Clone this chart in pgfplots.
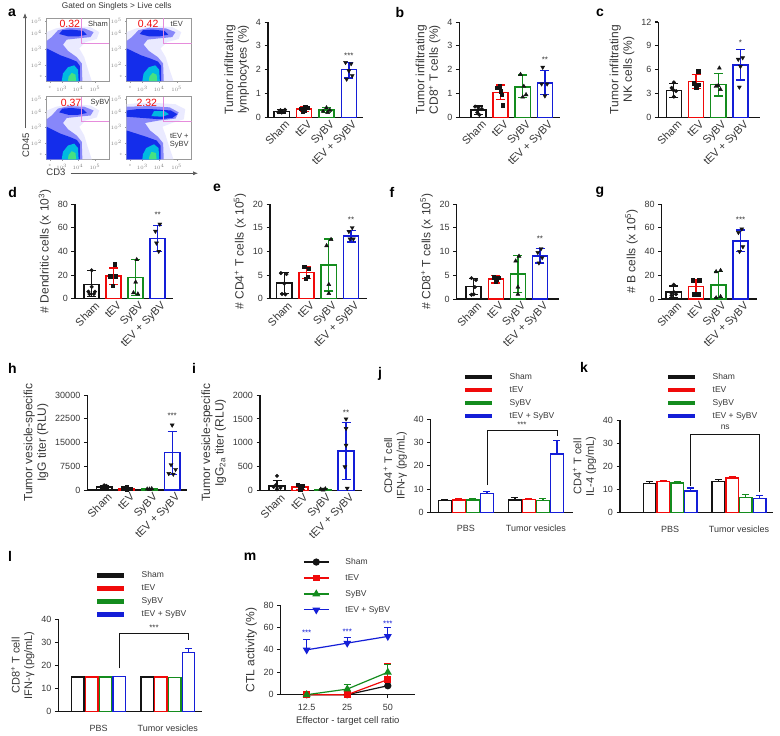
\documentclass[border=0pt]{standalone}
\usepackage{pgfplots}
\pgfplotsset{compat=1.18}
\usepackage{fontspec}
\setmainfont{Liberation Sans}
\usetikzlibrary{arrows.meta}
\definecolor{gpblack}{RGB}{20,20,20}
\definecolor{gpred}{RGB}{240,10,10}
\definecolor{gpgreen}{RGB}{20,140,30}
\definecolor{gpblue}{RGB}{20,30,215}
\definecolor{txt}{RGB}{55,55,55}
\definecolor{gatec}{RGB}{230,140,220}
\definecolor{fl1}{RGB}{234,234,255}
\definecolor{fl2}{RGB}{135,135,250}
\definecolor{fl3}{RGB}{20,45,235}
\definecolor{fl4}{RGB}{0,185,225}
\definecolor{fl5}{RGB}{70,225,130}
\newcommand{\fs}[1]{\fontsize{#1}{#1}\selectfont}
\tikzset{sig/.style={font=\fs{8}, text=txt}}

\pgfplotsset{
  gp/.style={scale only axis, clip=false,
    axis x line*=bottom, axis y line*=left,
    axis line style={line width=1.1pt, gpblack},
    tick align=outside, major tick length=3.5pt,
    tick style={line width=1pt, gpblack},
    ymin=0, scaled y ticks=false,
    /pgf/number format/assume math mode=true,
    /pgf/number format/1000 sep={},
    yticklabel style={font=\fs{9}, text=txt},
    xticklabel style={text=txt},
    ylabel style={font=\fontsize{12}{13.5}\selectfont, text=txt, align=center},
  },
  cat4/.style={gp, xtick={1,2,3,4}, xticklabels={Sham,tEV,SyBV,tEV + SyBV},
    xtick style={draw=none},
    xticklabel style={rotate=45, anchor=north east, font=\fs{11}, inner sep=1pt, xshift=4pt}},
  grp/.style={gp, xtick={1,2}, xticklabels={PBS,Tumor vesicles}, xtick style={draw=none},
    xticklabel style={font=\fs{9}, yshift=-6pt},
    ymax=40, ytick={0,10,20,30,40},
    ylabel style={font=\fontsize{11}{12.5}\selectfont},
    legend style={draw=none, fill=none, font=\fs{8.5}, text=txt, row sep=1.6pt, inner sep=0pt,
      /tikz/every odd column/.append style={column sep=13pt}},
    legend cell align=left,
    legend image code/.code={\draw[line width=4.5pt, ##1] (0pt,0pt) -- (27pt,0pt);}},
  flow/.style={scale only axis, xmin=0, xmax=100, ymin=0, ymax=100,
    axis line style={gray!80, line width=0.5pt},
    xtick={5,24,50,77}, ytick={8,25.5,51,76,96},
    xticklabels={0,$10^3$,$10^4$,$10^5$}, yticklabels={0,$10^2$,$10^3$,$10^4$,$10^5$},
    tick label style={font=\fs{3}, text=gray},
    tick pos=left, tick align=outside, major tick length=1.5pt,
    tick style={gray!80, line width=0.4pt}},
  circ/.style={only marks, mark=*, mark size=1.8pt, gpblack},
  sq/.style={only marks, mark=square*, mark size=1.7pt, gpblack},
  tri/.style={only marks, mark=triangle*, mark size=2.3pt, gpblack},
  itri/.style={only marks, mark=triangle*, mark size=2.3pt, mark options={rotate=180}, gpblack},
}

% x, colour, mean, plus, minus
\newcommand{\gb}[5]{\addplot[ybar, bar shift=0pt, bar width=0.68, draw=#2, line width=1.5pt, fill=white,
  error bars/.cd, y dir=both, y explicit, error bar style={line width=1.3pt, #2},
  error mark options={rotate=90, mark size=4.5pt, line width=1.3pt, #2}]
  coordinates {(#1,#3) += (0,#4) -= (0,#5)};}
% x, colour, mean, plus
\newcommand{\gbb}[4]{\addplot[ybar, bar shift=0pt, bar width=0.18, draw=#2, line width=1.4pt, fill=white,
  error bars/.cd, y dir=plus, y explicit, error bar style={line width=1.2pt, #2},
  error mark options={rotate=90, mark size=3.5pt, line width=1.2pt, #2}]
  coordinates {(#1,#3) +- (0,#4)};}
\newcommand{\legfour}{%
  \addlegendimage{gpblack}\addlegendentry{Sham}
  \addlegendimage{gpred}\addlegendentry{tEV}
  \addlegendimage{gpgreen}\addlegendentry{SyBV}
  \addlegendimage{gpblue}\addlegendentry{tEV + SyBV}}

\newcommand{\flowbase}{%
  \addplot[draw=none, fill=fl1] coordinates {(0,0)(72,0)(66,18)(60,38)(52,52)(62,62)(80,67)(84,78)(70,86)(40,88)(15,84)(0,78)};
  \addplot[draw=none, fill=fl2] coordinates {(0,0)(57,0)(56,28)(48,38)(34,48)(26,58)(32,66)(50,68)(70,70)(75,78)(60,84)(35,85)(18,81)(8,70)(0,64)};
  \addplot[draw=none, fill=fl3] coordinates {(0,0)(53,0)(53,24)(48,31)(36,36)(22,41)(10,47)(0,52)};
  \addplot[draw=none, fill=fl3] coordinates {(20,75)(35,71)(50,71)(64,74)(58,80)(40,82)(25,81)};
  \addplot[draw=none, fill=fl4] coordinates {(24,0)(51,0)(50,18)(44,25)(34,22)(26,12)};
  \addplot[draw=none, fill=fl5] coordinates {(34,0)(47,0)(46,10)(40,13)(35,7)};
}
\newcommand{\flowboth}{%
  \addplot[draw=none, fill=fl1] coordinates {(0,0)(72,0)(66,18)(60,38)(55,52)(70,58)(88,64)(90,80)(75,88)(45,90)(20,90)(0,88)};
  \addplot[draw=none, fill=fl2] coordinates {(0,0)(57,0)(56,26)(48,36)(36,46)(28,58)(50,62)(75,65)(80,75)(66,83)(35,85)(0,84)};
  \addplot[draw=none, fill=fl3] coordinates {(0,0)(52,0)(52,22)(46,30)(30,36)(12,42)(0,46)};
  \addplot[draw=none, fill=fl3] coordinates {(0,68)(25,66)(50,64)(70,66)(78,72)(68,78)(40,80)(15,80)(0,78)};
  \addplot[draw=none, fill=fl4] coordinates {(38,69)(55,68)(65,72)(58,77)(42,77)};
  \addplot[draw=none, fill=fl4] coordinates {(24,0)(50,0)(49,18)(42,24)(30,18)(25,8)};
  \addplot[draw=none, fill=fl5] coordinates {(34,0)(46,0)(45,10)(38,12)(35,5)};
}
\newcommand{\gate}{\addplot[gatec, line width=0.6pt] coordinates {(56,100)(56,60)(100,60)};}

\begin{document}
\begin{tikzpicture}
\path[use as bounding box] (0pt,0pt) rectangle (780pt,-736pt);

% ---------------- panel letters
\begin{scope}[every node/.style={font=\bfseries\fs{14}, text=black}]
\node at (12pt,-13pt) {a};
\node at (400pt,-12pt) {b};
\node at (600pt,-12.5pt) {c};
\node at (12.7pt,-192pt) {d};
\node at (217pt,-188pt) {e};
\node at (392pt,-192pt) {f};
\node at (600pt,-192pt) {g};
\node at (12.5pt,-368pt) {h};
\node at (194pt,-368pt) {i};
\node at (380pt,-374pt) {j};
\node at (584pt,-367pt) {k};
\node at (10pt,-556pt) {l};
\node at (250pt,-557pt) {m};
\end{scope}

% ---------------- flow cytometry
\node[font=\fs{8.3}, text=txt] at (116.7pt,-6.7pt) {Gated on Singlets > Live cells};
\draw[-{Latex[length=5pt,width=4pt]}, line width=0.7pt, gray!70!black] (25pt,-128pt) -- (25pt,-13pt);
\draw[-{Latex[length=5pt,width=4pt]}, line width=0.7pt, gray!70!black] (70.7pt,-173.3pt) -- (198pt,-173.3pt);
\node[rotate=90, font=\fs{9.5}, text=txt] at (25.8pt,-145pt) {CD45};
\node[font=\fs{9.5}, text=txt] at (56pt,-172.7pt) {CD3};

\begin{axis}[flow, at={(46.7pt,-81pt)}, anchor=south west, width=62.6pt, height=62.7pt]
  \flowbase \gate
  \node[gpred, font=\fs{10.5}] at (axis cs:37,91) {0.32};
  \node[font=\fs{7.5}, text=txt] at (axis cs:82,91) {Sham};
\end{axis}
\begin{axis}[flow, at={(126.7pt,-81pt)}, anchor=south west, width=65pt, height=62.7pt]
  \flowbase \gate
  \node[gpred, font=\fs{10.5}] at (axis cs:33,91) {0.42};
  \node[font=\fs{7.5}, text=txt] at (axis cs:77,91) {tEV};
\end{axis}
\begin{axis}[flow, at={(46.7pt,-159.3pt)}, anchor=south west, width=62.6pt, height=62.6pt]
  \flowbase \gate
  \node[gpred, font=\fs{10.5}] at (axis cs:39,90) {0.37};
  \node[font=\fs{7.5}, text=txt] at (axis cs:85,90) {SyBV};
\end{axis}
\begin{axis}[flow, at={(126.7pt,-159.3pt)}, anchor=south west, width=65pt, height=62.6pt]
  \flowboth \gate
  \node[gpred, font=\fs{10.5}] at (axis cs:31,90) {2.32};
  \node[font=\fs{7.5}, text=txt, align=center] at (axis cs:81,30) {tEV +\\SyBV};
\end{axis}

% ---------------- a (bar)
\begin{axis}[cat4, at={(268pt,-117.3pt)}, anchor=south west, width=95pt, height=95.3pt,
  xmin=0.39, xmax=4.63, ymax=4, ytick={0,1,2,3,4},
  ylabel={Tumor infiltrating\\lymphocytes (\%)}]
  \gb{1}{gpblack}{0.25}{0.07}{0.07}
  \gb{2}{gpred}{0.35}{0.1}{0.1}
  \gb{3}{gpgreen}{0.3}{0.1}{0.1}
  \gb{4}{gpblue}{2.0}{0.3}{0.35}
  \addplot[circ] coordinates {(0.85,0.22)(0.95,0.3)(1.05,0.25)(1.15,0.32)(1.0,0.2)};
  \addplot[sq] coordinates {(1.85,0.35)(1.95,0.25)(2.05,0.45)(2.15,0.4)(2.0,0.3)};
  \addplot[tri] coordinates {(2.85,0.25)(3.0,0.4)(3.15,0.3)(3.05,0.2)};
  \addplot[itri] coordinates {(3.85,2.3)(4.1,2.25)(3.9,1.6)(4.15,1.75)(4.0,1.95)};
  \node[sig] at (axis cs:4,2.6) {***};
\end{axis}

% ---------------- b
\begin{axis}[cat4, at={(459.3pt,-117.3pt)}, anchor=south west, width=100.7pt, height=95.3pt,
  xmin=0.14, xmax=4.68, ymax=4, ytick={0,1,2,3,4},
  ylabel={Tumor infiltrating\\CD8\textsuperscript{+} T cells (\%)}]
  \gb{1}{gpblack}{0.3}{0.18}{0.18}
  \gb{2}{gpred}{1.05}{0.3}{0.3}
  \gb{3}{gpgreen}{1.28}{0.5}{0.45}
  \gb{4}{gpblue}{1.45}{0.5}{0.5}
  \addplot[circ] coordinates {(0.85,0.45)(0.95,0.2)(1.05,0.1)(1.15,0.35)(1.0,0.4)};
  \addplot[sq] coordinates {(1.85,1.25)(2.0,1.1)(2.1,0.5)(2.05,0.95)(1.95,1.3)};
  \addplot[tri] coordinates {(2.9,1.8)(3.0,0.85)(3.15,0.95)(3.05,1.3)};
  \addplot[itri] coordinates {(3.9,2.1)(3.85,1.4)(4.1,1.4)(4.0,0.9)};
  \node[sig] at (axis cs:4,2.4) {**};
\end{axis}

% ---------------- c
\begin{axis}[cat4, at={(658.3pt,-117.3pt)}, anchor=south west, width=101.7pt, height=95.3pt,
  xmin=0.30, xmax=4.88, ymax=12, ytick={0,3,6,9,12},
  ylabel={Tumor infiltrating\\NK cells (\%)}]
  \gb{1}{gpblack}{3.4}{0.9}{0.9}
  \gb{2}{gpred}{4.5}{0.9}{0.9}
  \gb{3}{gpgreen}{4.1}{1.4}{1.4}
  \gb{4}{gpblue}{6.6}{1.9}{1.9}
  \addplot[circ] coordinates {(1,4.4)(0.9,3.7)(1.1,3.3)(1,2.6)(0.95,3.5)};
  \addplot[sq] coordinates {(2.1,5.8)(1.9,4.3)(2,3.8)(2.1,4.1)};
  \addplot[tri] coordinates {(3.05,6.2)(2.9,3.9)(3.1,3.5)(3.0,4.0)};
  \addplot[itri] coordinates {(3.9,7.3)(4.1,7.5)(4.0,6.4)(3.95,3.8)};
  \node[sig] at (axis cs:4,9.4) {*};
\end{axis}

% ---------------- d
\begin{axis}[cat4, at={(75pt,-298.7pt)}, anchor=south west, width=98pt, height=94.7pt,
  xmin=0.24, xmax=4.7, ymax=80, ytick={0,20,40,60,80},
  ylabel={\# Dendritic cells (x 10\textsuperscript{3})}]
  \gb{1}{gpblack}{12}{12}{10}
  \gb{2}{gpred}{19}{7}{7}
  \gb{3}{gpgreen}{18}{15}{15}
  \gb{4}{gpblue}{51}{11}{11}
  \addplot[circ] coordinates {(1,24)(0.85,6)(1.15,6)(1,10)(0.9,4)(1.1,4)};
  \addplot[sq] coordinates {(2.05,29)(1.85,19)(1.95,11)(2.1,19)};
  \addplot[tri] coordinates {(3.05,33)(2.9,5)(3.1,4)(3,14)};
  \addplot[itri] coordinates {(3.9,57)(4.1,63)(3.95,47)(4.05,40)};
  \node[sig] at (axis cs:4,70.7) {**};
\end{axis}

% ---------------- e
\begin{axis}[cat4, at={(270pt,-298.7pt)}, anchor=south west, width=96.7pt, height=94.7pt,
  xmin=0.36, xmax=4.7, ymax=20, ytick={0,5,10,15,20},
  ylabel={\# CD4\textsuperscript{+} T cells (x 10\textsuperscript{5})}]
  \gb{1}{gpblack}{3.3}{2.2}{2.2}
  \gb{2}{gpred}{5.5}{1.3}{1.3}
  \gb{3}{gpgreen}{7.1}{5.5}{5.5}
  \gb{4}{gpblue}{13.2}{1.2}{1.2}
  \addplot[circ] coordinates {(0.85,5.4)(1.1,5.2)(0.9,1)(1.05,0.9)(1,3.2)};
  \addplot[sq] coordinates {(1.9,6.8)(2.1,6.3)(1.95,4.2)(2.05,4.7)};
  \addplot[tri] coordinates {(2.9,11.2)(3.1,12.5)(3.0,3.0)(3.0,1.1)};
  \addplot[itri] coordinates {(3.9,14.2)(4.05,15.0)(4.1,12.6)(3.95,12.6)};
  \node[sig] at (axis cs:4,16.6) {**};
\end{axis}

% ---------------- f
\begin{axis}[cat4, at={(456.7pt,-299pt)}, anchor=south west, width=102.3pt, height=95pt,
  xmin=0.23, xmax=4.86, ymax=20, ytick={0,5,10,15,20},
  ylabel={\# CD8\textsuperscript{+} T cells (x 10\textsuperscript{5})}]
  \gb{1}{gpblack}{2.6}{1.7}{1.7}
  \gb{2}{gpred}{4.2}{0.8}{0.8}
  \gb{3}{gpgreen}{5.3}{3.9}{3.9}
  \gb{4}{gpblue}{9.1}{1.5}{1.5}
  \addplot[circ] coordinates {(0.9,4.4)(1.1,4.0)(1.0,1.0)(0.9,0.9)(1.05,2.5)};
  \addplot[sq] coordinates {(1.9,4.6)(2.1,4.5)(2.0,3.6)(2.05,4.1)};
  \addplot[tri] coordinates {(2.9,8.0)(3.05,9.0)(3.0,2.5)(3.0,1.0)};
  \addplot[itri] coordinates {(3.9,9.8)(4.05,10.6)(4.1,8.7)(3.95,7.6)};
  \node[sig] at (axis cs:4,12.6) {**};
\end{axis}

% ---------------- g
\begin{axis}[cat4, at={(661.7pt,-299pt)}, anchor=south west, width=95pt, height=95pt,
  xmin=0.46, xmax=4.72, ymax=80, ytick={0,20,40,60,80},
  ylabel={\# B cells (x 10\textsuperscript{5})}]
  \gb{1}{gpblack}{6}{5}{5}
  \gb{2}{gpred}{10.5}{5.5}{5.5}
  \gb{3}{gpgreen}{12}{11}{11}
  \gb{4}{gpblue}{49}{9}{9}
  \addplot[circ] coordinates {(1,12)(0.9,3)(1.1,4)(1,6)(0.9,5)};
  \addplot[sq] coordinates {(1.85,16)(2.15,16)(1.9,4)(2.1,4)};
  \addplot[tri] coordinates {(2.9,23)(3.1,24)(2.9,1)(3.1,2)};
  \addplot[itri] coordinates {(3.9,56)(4.05,59)(4.1,44)(3.95,40)};
  \node[sig] at (axis cs:4,67) {***};
\end{axis}

% ---------------- h
\begin{axis}[cat4, at={(87.3pt,-490pt)}, anchor=south west, width=99.4pt, height=95pt,
  xmin=0.26, xmax=4.64, ymax=30000, ytick={0,7500,15000,22500,30000},
  ylabel={Tumor vesicle-specific\\IgG titer (RLU)}]
  \gb{1}{gpblack}{1000}{350}{350}
  \gb{2}{gpred}{500}{300}{300}
  \gb{3}{gpgreen}{300}{150}{150}
  \gb{4}{gpblue}{11800}{6700}{7000}
  \addplot[circ] coordinates {(1,1500)(0.9,800)(1.1,1300)(1,600)};
  \addplot[sq] coordinates {(1.85,600)(2,300)(2.15,500)(2,900)};
  \addplot[tri] coordinates {(2.9,300)(3,200)(3.1,400)(3,250)};
  \addplot[itri] coordinates {(4,20500)(3.95,8000)(3.85,5200)(4.15,6500)(4.05,5000)};
  \node[sig] at (axis cs:4,23400) {***};
\end{axis}

% ---------------- i
\begin{axis}[cat4, at={(260pt,-490.7pt)}, anchor=south west, width=101.7pt, height=95.7pt,
  xmin=0.26, xmax=4.68, ymax=2000, ytick={0,500,1000,1500,2000},
  ylabel={Tumor vesicle-specific\\IgG\textsubscript{2a} titer (RLU)}]
  \gb{1}{gpblack}{100}{120}{100}
  \gb{2}{gpred}{80}{50}{50}
  \gb{3}{gpgreen}{30}{20}{20}
  \gb{4}{gpblue}{830}{600}{600}
  \addplot[circ] coordinates {(1,310)(0.85,80)(1.15,60)(1,30)(0.95,120)};
  \addplot[sq] coordinates {(1.9,120)(2.1,100)(2,30)(2.05,60)};
  \addplot[tri] coordinates {(2.9,30)(3.1,40)(3,15)};
  \addplot[itri] coordinates {(4,1500)(4,1300)(4,950)(3.95,500)(4.05,50)};
  \node[sig] at (axis cs:4,1630) {**};
\end{axis}

% ---------------- j
\begin{axis}[grp, at={(430.7pt,-512.3pt)}, anchor=south west, width=142.3pt, height=93pt,
  xmin=0.496, xmax=2.53,
  legend style={at={(axis description cs:0.227,1.519)}, anchor=north west},
  ylabel={CD4\textsuperscript{+} T cell\\IFN-γ (pg/mL)}]
  \legfour
  \gbb{0.7}{gpblack}{5.2}{0.4}
  \gbb{0.9}{gpred}{5.3}{0.4}
  \gbb{1.1}{gpgreen}{5.3}{0.5}
  \gbb{1.3}{gpblue}{8.0}{0.8}
  \gbb{1.7}{gpblack}{5.3}{0.9}
  \gbb{1.9}{gpred}{5.4}{0.5}
  \gbb{2.1}{gpgreen}{5.0}{0.9}
  \gbb{2.3}{gpblue}{25.0}{5.8}
  \addplot[gpblack, line width=0.8pt] coordinates {(1.3,11.7)(1.3,35.4)(2.3,35.4)(2.3,32.8)};
  \node[sig] at (axis cs:1.8,37.8) {***};
\end{axis}

% ---------------- k
\begin{axis}[grp, at={(620pt,-512.7pt)}, anchor=south west, width=152.7pt, height=92.7pt,
  xmin=0.27, xmax=2.49,
  legend style={at={(axis description cs:0.301,1.529)}, anchor=north west},
  ylabel={CD4\textsuperscript{+} T cell\\IL-4 (pg/mL)}]
  \legfour
  \gbb{0.7}{gpblack}{12.7}{0.6}
  \gbb{0.9}{gpred}{13.5}{0.5}
  \gbb{1.1}{gpgreen}{12.8}{0.6}
  \gbb{1.3}{gpblue}{9.4}{1.3}
  \gbb{1.7}{gpblack}{13.5}{0.8}
  \gbb{1.9}{gpred}{15.0}{0.5}
  \gbb{2.1}{gpgreen}{6.6}{1.4}
  \gbb{2.3}{gpblue}{6.2}{1.3}
  \addplot[gpblack, line width=0.8pt] coordinates {(1.3,11.5)(1.3,33.8)(2.3,33.8)(2.3,9)};
  \node[font=\fs{8.5}, text=txt] at (axis cs:1.8,37) {ns};
\end{axis}

% ---------------- l
\begin{axis}[grp, at={(58.3pt,-711.7pt)}, anchor=south west, width=143.4pt, height=92.7pt,
  xmin=0.417, xmax=2.49,
  legend style={at={(axis description cs:0.256,1.534)}, anchor=north west},
  ylabel={CD8\textsuperscript{+} T cell\\IFN-γ (pg/mL)}]
  \legfour
  \gbb{0.7}{gpblack}{15}{0.2}
  \gbb{0.9}{gpred}{15}{0.1}
  \gbb{1.1}{gpgreen}{15}{0.1}
  \gbb{1.3}{gpblue}{15.2}{0.1}
  \gbb{1.7}{gpblack}{15}{0.1}
  \gbb{1.9}{gpred}{15}{0.1}
  \gbb{2.1}{gpgreen}{14.8}{0.1}
  \gbb{2.3}{gpblue}{25.5}{1.7}
  \addplot[gpblack, line width=0.8pt] coordinates {(1.3,18.7)(1.3,33.8)(2.3,33.8)(2.3,30.9)};
  \node[sig] at (axis cs:1.8,36.3) {***};
\end{axis}

% ---------------- m
\begin{axis}[gp, at={(280.7pt,-694.7pt)}, anchor=south west, width=134.3pt, height=89.7pt,
  xmin=0.36, xmax=3.67, ymax=80, ytick={0,20,40,60,80},
  xtick={1,2,3}, xticklabels={12.5,25,50},
  xticklabel style={font=\fs{9}, yshift=-2pt},
  xlabel={Effector - target cell ratio}, xlabel style={font=\fs{9.5}, text=txt},
  ylabel={CTL activity (\%)},
  legend style={at={(axis description cs:0.166,1.546)}, anchor=north west, draw=none, fill=none,
    font=\fs{8.5}, text=txt, row sep=4.5pt, inner sep=0pt,
    /tikz/every odd column/.append style={column sep=14pt}},
  legend cell align=left,
  legend image code/.code={\draw[mark repeat=2, mark phase=2, #1] plot coordinates {(0pt,0pt)(12.5pt,0pt)(25pt,0pt)};}]
  \addlegendimage{gpblack, line width=1.2pt, mark=*, mark size=3pt}\addlegendentry{Sham}
  \addlegendimage{gpred, line width=1.2pt, mark=square*, mark size=2.8pt}\addlegendentry{tEV}
  \addlegendimage{gpgreen, line width=1.2pt, mark=triangle*, mark size=3.4pt}\addlegendentry{SyBV}
  \addlegendimage{gpblue, line width=1.2pt, mark=triangle*, mark size=3.4pt, mark options={rotate=180}}\addlegendentry{tEV + SyBV}
  \addplot[gpblack, line width=1.2pt, mark=*, mark size=3pt,
    error bars/.cd, y dir=plus, y explicit, error bar style={line width=1pt, gpblack},
    error mark options={rotate=90, mark size=3.5pt, line width=1pt, gpblack}]
    coordinates {(1,0) +- (0,0) (2,0) +- (0,0) (3,8) +- (0,3)};
  \addplot[gpred, line width=1.2pt, mark=square*, mark size=2.8pt,
    error bars/.cd, y dir=plus, y explicit, error bar style={line width=1pt, gpred},
    error mark options={rotate=90, mark size=3.5pt, line width=1pt, gpred}]
    coordinates {(1,0) +- (0,0) (2,0) +- (0,0) (3,13.5) +- (0,14)};
  \addplot[gpgreen, line width=1.2pt, mark=triangle*, mark size=3.4pt,
    error bars/.cd, y dir=plus, y explicit, error bar style={line width=1pt, gpgreen},
    error mark options={rotate=90, mark size=3.5pt, line width=1pt, gpgreen}]
    coordinates {(1,0) +- (0,0) (2,5) +- (0,4.5) (3,20) +- (0,7)};
  \addplot[gpblue, line width=1.2pt, mark=triangle*, mark size=3.4pt, mark options={rotate=180},
    error bars/.cd, y dir=plus, y explicit, error bar style={line width=1pt, gpblue},
    error mark options={rotate=90, mark size=3.5pt, line width=1pt, gpblue}]
    coordinates {(1,40) +- (0,9.5) (2,46) +- (0,5) (3,52) +- (0,7.5)};
  \node[font=\fs{8}, text=gpblue] at (axis cs:1,55.3) {***};
  \node[font=\fs{8}, text=gpblue] at (axis cs:2,55.8) {***};
  \node[font=\fs{8}, text=gpblue] at (axis cs:3,63.7) {***};
\end{axis}

\end{tikzpicture}
\end{document}
